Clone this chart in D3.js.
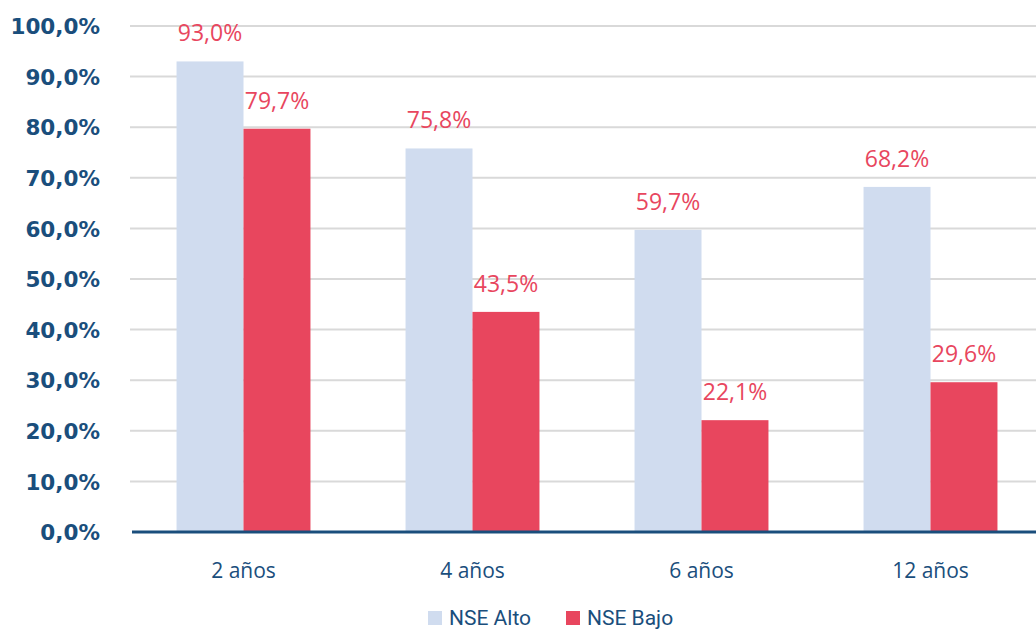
<!DOCTYPE html>
<html>
<head>
<meta charset="utf-8">
<script src="https://cdn.jsdelivr.net/npm/d3@7"></script>
<style>
  body { margin: 0; background: #fff; }
  svg { display: block; }
</style>
</head>
<body>
<div id="chart"></div>
<script>
const categories = ["2 años", "4 años", "6 años", "12 años"];
const seriesNames = ["NSE Alto", "NSE Bajo"];
const nseAlto = [93.0, 75.8, 59.7, 68.2];
const nseBajo = [79.7, 43.5, 22.1, 29.6];
const yTicks = [0, 10, 20, 30, 40, 50, 60, 70, 80, 90, 100];

const colors = ["#d0dcef", "#e8465e"];
const darkBlue = "#1a4e7c";

const width = 1036, height = 630;
const margin = { top: 26, right: -9, bottom: 98, left: 129 };

const svg = d3.select("#chart").append("svg")
    .attr("width", width)
    .attr("height", height);

const fmt = v => v.toFixed(1).replace(".", ",") + "%";

const x = d3.scaleBand()
    .domain(categories)
    .range([margin.left, width - margin.right])
    .paddingInner(0)
    .paddingOuter(0);

const x1 = d3.scaleBand()
    .domain(seriesNames)
    .range([0, x.bandwidth()])
    .paddingInner(0)
    .paddingOuter(0.71);

const y = d3.scaleLinear()
    .domain([0, 100])
    .range([height - margin.bottom, margin.top]);

// gridlines
svg.append("g")
    .selectAll("line")
    .data(yTicks.filter(d => d > 0))
    .enter().append("line")
    .attr("x1", margin.left + 1)
    .attr("x2", width)
    .attr("y1", d => y(d))
    .attr("y2", d => y(d))
    .attr("stroke", "#d9d9d9")
    .attr("stroke-width", 2);

// y axis labels
const yAxis = svg.append("g")
    .attr("transform", `translate(${margin.left - 29},0)`)
    .call(d3.axisLeft(y).tickValues(yTicks).tickFormat(fmt).tickSize(0).tickPadding(0));
yAxis.select(".domain").remove();
yAxis.selectAll("text")
    .style("font-family", "'DejaVu Sans', sans-serif")
    .style("font-weight", "bold")
    .style("font-size", "21.5px")
    .attr("fill", darkBlue)
    .attr("dy", "0.36em");

const series = [nseAlto, nseBajo];
const rows = [];
categories.forEach((c, i) => {
    seriesNames.forEach((s, j) => rows.push({ cat: c, name: s, value: series[j][i], color: colors[j] }));
});

// bars
svg.append("g")
    .selectAll("rect")
    .data(rows)
    .enter().append("rect")
    .attr("x", d => x(d.cat) + x1(d.name))
    .attr("y", d => y(d.value))
    .attr("width", x1.bandwidth())
    .attr("height", d => y(0) - y(d.value))
    .attr("fill", d => d.color);

// value labels
svg.append("g")
    .selectAll("text")
    .data(rows)
    .enter().append("text")
    .attr("x", d => x(d.cat) + x1(d.name) + x1.bandwidth() / 2)
    .attr("y", d => y(d.value) - 20)
    .attr("text-anchor", "middle")
    .style("font-family", "'Open Sans', sans-serif")
    .style("font-size", "23px")
    .attr("fill", "#e8465e")
    .text(d => fmt(d.value));

// baseline
svg.append("line")
    .attr("x1", margin.left + 3)
    .attr("x2", width)
    .attr("y1", y(0))
    .attr("y2", y(0))
    .attr("stroke", darkBlue)
    .attr("stroke-width", 3);

// x axis labels
svg.append("g")
    .selectAll("text")
    .data(categories)
    .enter().append("text")
    .attr("x", d => x(d) + x.bandwidth() / 2)
    .attr("y", 578)
    .attr("text-anchor", "middle")
    .style("font-family", "'Open Sans', sans-serif")
    .style("font-size", "21px")
    .attr("fill", darkBlue)
    .text(d => d);

// legend
const legendX = [428, 566];
const legend = svg.append("g")
    .selectAll("g")
    .data(seriesNames)
    .enter().append("g")
    .attr("transform", (d, i) => `translate(${legendX[i]},611)`);
legend.append("rect")
    .attr("width", 14)
    .attr("height", 14)
    .attr("fill", (d, i) => colors[i]);
legend.append("text")
    .attr("x", 21)
    .attr("y", 14)
    .style("font-family", "Roboto, sans-serif")
    .style("font-size", "21px")
    .attr("fill", darkBlue)
    .text(d => d);
</script>
</body>
</html>
